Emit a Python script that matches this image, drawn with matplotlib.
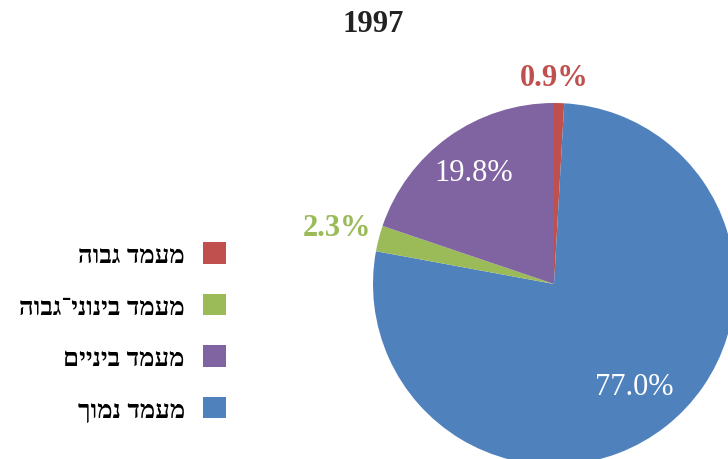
import numpy as np
import matplotlib
matplotlib.use("Agg")
import matplotlib.pyplot as plt

# data, in clockwise order starting from 12 o'clock
labels = ["מעמד גבוה", "מעמד נמוך", "מעמד בינוני־גבוה", "מעמד ביניים"]
values = [0.9, 77.0, 2.3, 19.8]
colors = ["#C0504D", "#4F81BD", "#9BBB59", "#8064A2"]
legend_order = [0, 2, 3, 1]
title = "1997"

# label styling per slice
label_dist = [1.14, 0.72, 1.24, 0.76]
label_color = ["#C0504D", "white", "#9BBB59", "white"]
label_weight = ["bold", "normal", "bold", "normal"]

serif = ["Liberation Serif", "DejaVu Serif"]


def rtl(s):
    # matplotlib has no bidi support, so flip the Hebrew by hand
    return s[::-1]


def main():
    W, H = 728, 460
    fig = plt.figure(figsize=(W / 100, H / 100), dpi=100)

    cx, cy, r = 554, 285, 181
    ax = fig.add_axes([(cx - r) / W, (H - cy - r) / H, 2 * r / W, 2 * r / H])
    wedges, _ = ax.pie(values, colors=colors, startangle=90, counterclock=False,
                       radius=1, wedgeprops=dict(linewidth=0))
    ax.set_xlim(-1, 1)
    ax.set_ylim(-1, 1)
    ax.set_aspect("equal")
    ax.axis("off")

    for i, w in enumerate(wedges):
        ang = np.deg2rad((w.theta1 + w.theta2) / 2)
        d = label_dist[i]
        ax.text(d * np.cos(ang) - (0.03 if i == 0 else 0), d * np.sin(ang),
                "%.1f%%" % values[i],
                ha="center", va="center", fontsize=22, color=label_color[i],
                fontweight=label_weight[i], family=serif, clip_on=False)

    fig.text(373 / W, 1 - 24 / H, title, ha="center", va="center",
             fontsize=22, fontweight="bold", family=serif, color="#222222")

    handles = [wedges[i] for i in legend_order]
    names = [rtl(labels[i]) for i in legend_order]
    fig.legend(handles, names, loc="center right",
               bbox_to_anchor=(226 / W, 1 - 333 / H),
               frameon=False, markerfirst=False, borderpad=0, borderaxespad=0,
               handlelength=0.9, handleheight=0.9, handletextpad=0.7,
               labelspacing=1.05,
               prop=dict(family=serif, size=18.5, weight="bold"))

    fig.savefig("out.png", dpi=100)


if __name__ == '__main__':
    main()
